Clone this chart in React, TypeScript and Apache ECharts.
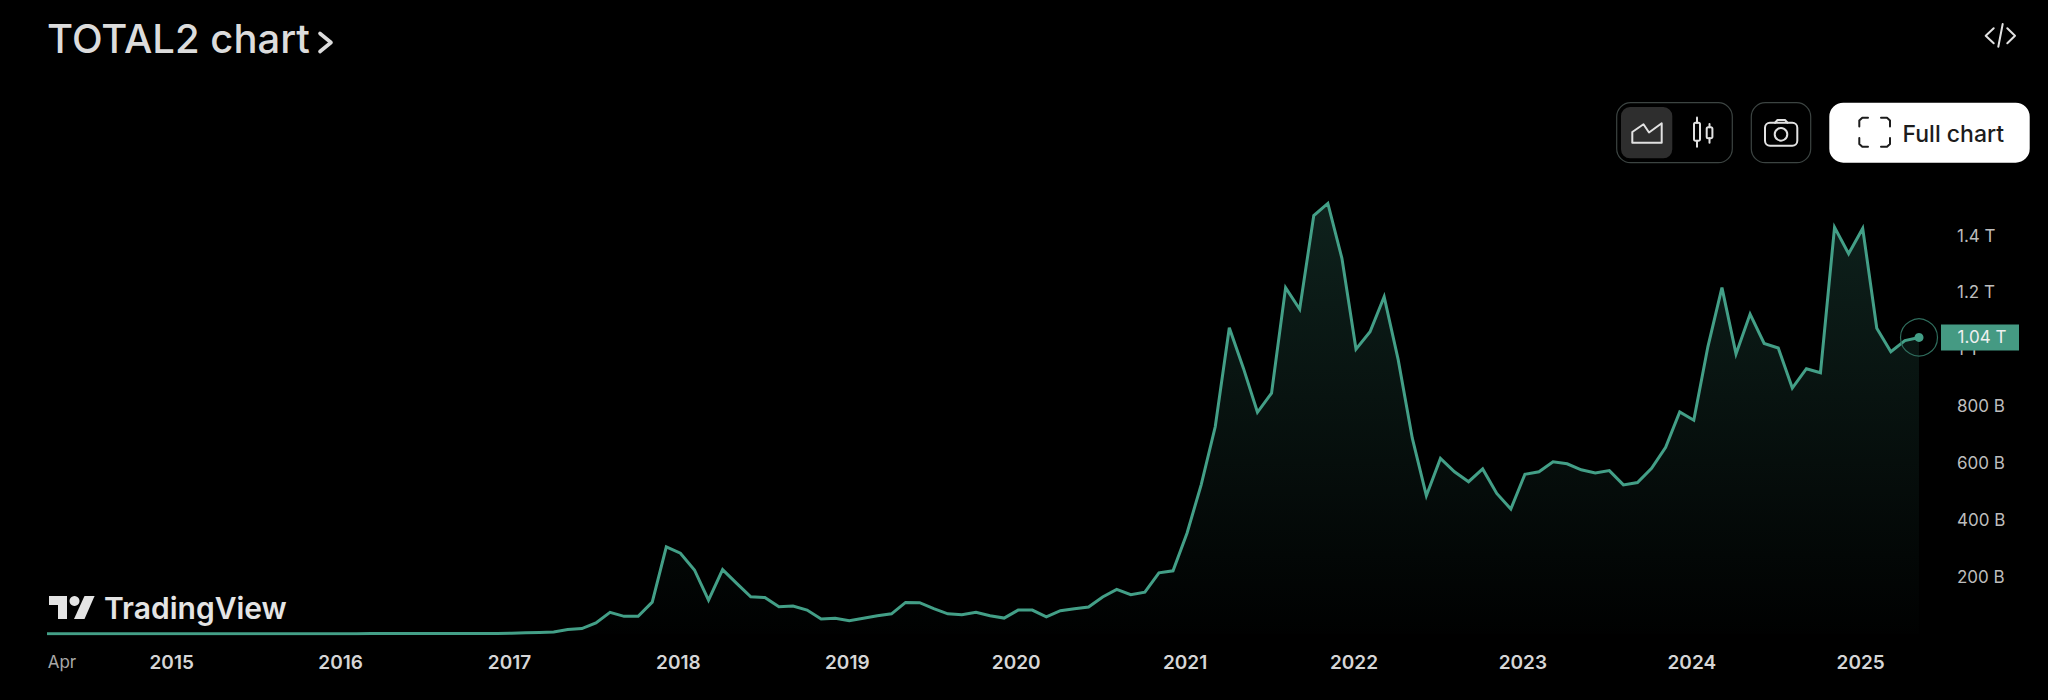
import React, { useEffect, useRef } from 'react';
import * as echarts from 'echarts';

// monthly closes, Apr 2014 to May 2025, in billions of USD
const values2014 = [1, 1, 1, 1, 1, 1, 1, 1, 1];
const values2015 = [1, 1, 1, 1, 1, 1, 1, 1, 1, 1, 1, 1];
const values2016 = [1, 1, 2, 2, 2, 2, 2, 2, 2, 2, 2, 2];
const values2017 = [3, 4, 5, 7, 16, 19, 39, 76, 62, 62, 112, 306];
const values2018 = [284, 225, 119, 226, 178, 131, 128, 96, 98, 84, 53, 55];
const values2019 = [47, 55, 64, 71, 111, 110, 89, 71, 68, 76, 64, 56];
const values2020 = [84, 84, 60, 82, 89, 95, 130, 157, 138, 147, 215, 222];
const values2021 = [355, 524, 728, 1076, 934, 779, 846, 1217, 1141, 1470, 1513, 1320];
const values2022 = [1001, 1062, 1185, 963, 688, 486, 617, 570, 535, 580, 494, 439];
const values2023 = [561, 570, 605, 598, 577, 566, 574, 524, 532, 582, 656, 780];
const values2024 = [751, 1009, 1217, 984, 1124, 1021, 1005, 864, 932, 918, 1429, 1336];
const values2025 = [1425, 1074, 992, 1031, 1042];

const total2 = [
  ...values2014, ...values2015, ...values2016, ...values2017, ...values2018, ...values2019,
  ...values2020, ...values2021, ...values2022, ...values2023, ...values2024, ...values2025,
];

const monthNames = ['Jan', 'Feb', 'Mar', 'Apr', 'May', 'Jun', 'Jul', 'Aug', 'Sep', 'Oct', 'Nov', 'Dec'];
const months = total2.map((_, i) => {
  const m = i + 3;
  return `${monthNames[m % 12]} ${2014 + Math.floor(m / 12)}`;
});

const lastLabel = '1.04 T';
const lineColor = '#439f87';

const line = (points: number[][], stroke = '#e2e2e2', lineWidth = 2) => ({
  type: 'polyline',
  silent: true,
  shape: { points },
  style: { stroke, lineWidth, fill: 'none', lineJoin: 'round', lineCap: 'round' },
});

const box = (x: number, y: number, width: number, height: number, r: number, style: object) => ({
  type: 'rect',
  silent: true,
  shape: { x, y, width, height, r },
  style,
});

const label = (text: string, x: number, y: number, fontSize: number, fontWeight: number, fill: string) => ({
  type: 'text',
  silent: true,
  style: { text, x, y, fontSize, fontWeight, fontFamily: 'Inter', fill, textVerticalAlign: 'middle' },
});

const App: React.FC = () => {
  const chartRef = useRef<HTMLDivElement>(null);

  useEffect(() => {
    document.body.style.margin = '0';
    document.body.style.background = '#000';
    if (!chartRef.current) return;
    const chart = echarts.init(chartRef.current, undefined, { renderer: 'svg' });
    const outline = { stroke: '#3c4442', lineWidth: 1.2, fill: 'none' };

    const option = {
      animation: false,
      backgroundColor: '#000',
      grid: { left: 47, top: 178.6, width: 1872, height: 455.4 },
      xAxis: {
        type: 'category',
        data: months,
        boundaryGap: false,
        axisLine: { show: false },
        axisTick: { show: false },
        splitLine: { show: false },
        axisLabel: {
          interval: (i: number, v: string) => i === 0 || v.startsWith('Jan'),
          margin: 19,
          color: '#d6d6d6',
          fontFamily: 'Inter',
          fontSize: 19,
          fontWeight: 600,
          formatter: (v: string, i: number) => (i === 0 ? '{apr|Apr}' : `{year|${v.slice(4)}}`),
          rich: {
            apr: { color: '#a8a8a8', fontFamily: 'Inter', fontSize: 17, fontWeight: 400, padding: [0, 0, 0, 30] },
            year: { color: '#d6d6d6', fontFamily: 'Inter', fontSize: 19, fontWeight: 600, padding: [0, 4, 0, 0] },
          },
        },
      },
      yAxis: {
        type: 'value',
        position: 'right',
        min: 0,
        max: 1600,
        interval: 200,
        axisLine: { show: false },
        axisTick: { show: false },
        splitLine: { show: false },
        axisLabel: {
          margin: 38,
          color: '#bdbdbd',
          fontFamily: 'Inter',
          fontSize: 17,
          formatter: (v: number) => {
            if (v === 0 || v === 1600) return '';
            return v >= 1000 ? `${v / 1000} T` : `${v} B`;
          },
        },
      },
      series: [
        {
          type: 'line',
          data: total2,
          symbol: 'none',
          lineStyle: { color: lineColor, width: 3, join: 'miter' },
          areaStyle: {
            color: new echarts.graphic.LinearGradient(0, 0, 0, 1, [
              { offset: 0, color: 'rgba(67,159,135,0.3)' },
              { offset: 1, color: 'rgba(67,159,135,0.01)' },
            ]),
          },
          markPoint: {
            silent: true,
            animation: false,
            data: [
              {
                coord: [months.length - 1, total2[total2.length - 1]],
                symbol: 'circle',
                symbolSize: 37,
                itemStyle: { color: 'rgba(0,0,0,0)', borderColor: '#2f6d5d', borderWidth: 1.2 },
                label: { show: false },
              },
              {
                coord: [months.length - 1, total2[total2.length - 1]],
                symbol: 'circle',
                symbolSize: 9,
                itemStyle: { color: lineColor },
                label: { show: false },
              },
              {
                coord: [months.length - 1, total2[total2.length - 1]],
                symbol: 'rect',
                symbolSize: [78, 26],
                symbolOffset: [61, 0],
                itemStyle: { color: '#459a83' },
                label: {
                  show: true,
                  position: 'inside',
                  offset: [2, 0],
                  formatter: lastLabel,
                  color: '#f0f0f0',
                  fontFamily: 'Inter',
                  fontSize: 17,
                },
              },
            ],
          },
        },
      ],
      graphic: [
        label('TOTAL2 chart', 47, 38, 40, 500, '#dcdcdc'),
        line([[320, 33.5], [331, 42.5], [320, 51.5]], '#dcdcdc', 3.6),
        // embed icon
        line([[1993.7, 28.3], [1985.7, 35.7], [1993.7, 43.3]]),
        line([[2002.7, 24], [1998.3, 46.7]]),
        line([[2007.3, 28.3], [2015, 35.7], [2007.3, 43.3]]),
        // chart type switch
        box(1616.7, 102.7, 115.6, 60, 14, outline),
        box(1621, 107, 51.3, 51.3, 9, { fill: '#2e2e2e' }),
        line([[1632.3, 142.7], [1632.3, 132], [1643.5, 124.3], [1649, 132.5], [1661.7, 123.3], [1661.7, 142.7], [1632.3, 142.7]]),
        box(1694, 122.7, 6, 18, 1.5, { stroke: '#e2e2e2', lineWidth: 2, fill: 'none' }),
        line([[1697, 117.5], [1697, 122.7]]),
        line([[1697, 140.7], [1697, 146.7]]),
        box(1706.7, 127.3, 5.7, 11, 1.5, { stroke: '#e2e2e2', lineWidth: 2, fill: 'none' }),
        line([[1709.5, 124], [1709.5, 127.3]]),
        line([[1709.5, 138.3], [1709.5, 142.7]]),
        // screenshot button
        box(1751.3, 102.7, 59.4, 60, 14, outline),
        box(1765, 122.7, 32.3, 23, 5, { stroke: '#e2e2e2', lineWidth: 2, fill: 'none' }),
        line([[1775, 122.7], [1777.5, 120], [1785, 120], [1787.5, 122.7]]),
        { type: 'circle', silent: true, shape: { cx: 1781, cy: 134.3, r: 6.3 }, style: { stroke: '#e2e2e2', lineWidth: 2, fill: 'none' } },
        // full chart button
        box(1829.3, 102.7, 200.4, 60, 14, { fill: '#ffffff' }),
        line([[1859.3, 126.5], [1859.3, 120.5], [1862.3, 117.7], [1868, 117.7]], '#1c1c1c'),
        line([[1881, 117.7], [1887, 117.7], [1890, 120.5], [1890, 126.5]], '#1c1c1c'),
        line([[1859.3, 138], [1859.3, 144], [1862.3, 146.7], [1868, 146.7]], '#1c1c1c'),
        line([[1881, 146.7], [1887, 146.7], [1890, 144], [1890, 138]], '#1c1c1c'),
        label('Full chart', 1902.5, 134, 23, 500, '#1c1c1c'),
        // TradingView logo
        { type: 'polygon', silent: true, shape: { points: [[49, 596], [67, 596], [67, 619], [58, 619], [58, 605], [49, 605]] }, style: { fill: '#e4e4e4' } },
        { type: 'circle', silent: true, shape: { cx: 74.5, cy: 601, r: 5 }, style: { fill: '#e4e4e4' } },
        { type: 'polygon', silent: true, shape: { points: [[84.5, 596], [94.6, 596], [84.5, 619], [74, 619]] }, style: { fill: '#e4e4e4' } },
        label('TradingView', 104, 608, 30, 600, '#e4e4e4'),
      ],
    };
    chart.setOption(option);

    return () => {
      chart.dispose();
    };
  }, []);

  return <div ref={chartRef} style={{ width: 2048, height: 700 }} />;
};

export default App;
